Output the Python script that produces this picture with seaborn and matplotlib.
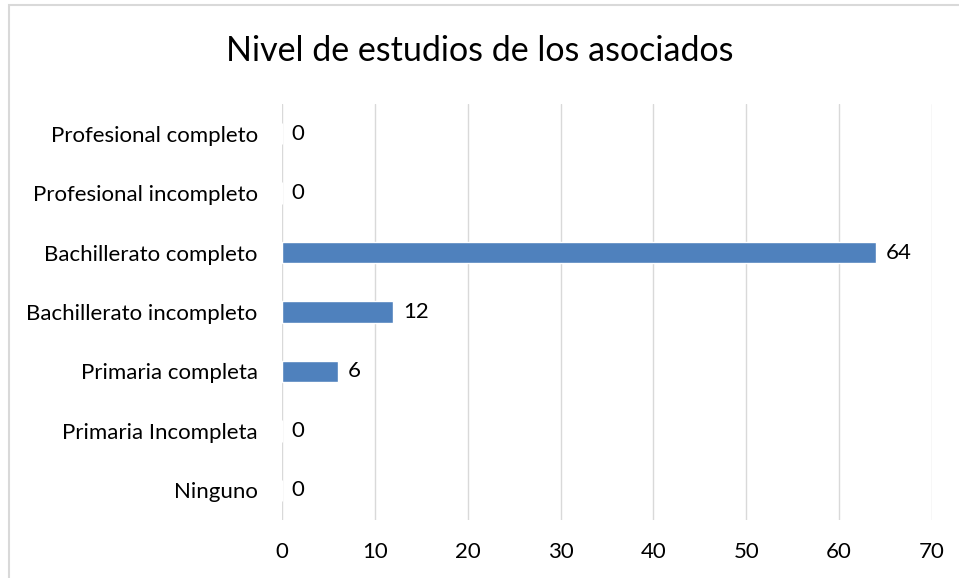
import matplotlib
matplotlib.use("Agg")
import matplotlib.pyplot as plt
from matplotlib.patches import Rectangle
import seaborn as sns
import pandas as pd

categories = [
    "Profesional completo",
    "Profesional incompleto",
    "Bachillerato completo",
    "Bachillerato incompleto",
    "Primaria completa",
    "Primaria Incompleta",
    "Ninguno",
]
counts = [0, 0, 64, 12, 6, 0, 0]
x_ticks = [0, 10, 20, 30, 40, 50, 60, 70]
title = "Nivel de estudios de los asociados"

df = pd.DataFrame({"nivel": categories, "asociados": counts})

sns.set_theme(style="white")
plt.rcParams["font.family"] = ["Lato", "DejaVu Sans"]

W, H = 959, 578
fig = plt.figure(figsize=(W / 100, H / 100), dpi=100)
ax = fig.add_axes([282 / W, 1 - 520 / H, 650 / W, 416 / H])

sns.barplot(data=df, x="asociados", y="nivel", orient="h",
            color="#4F81BD", width=0.36, saturation=1, ax=ax)

ax.set_xlim(0, 70)
ax.set_xticks(x_ticks)
ax.set_xticklabels([str(t) for t in x_ticks])
ax.grid(axis="x", color="#D9D9D9", linewidth=1.0)
ax.grid(axis="y", visible=False)
ax.set_axisbelow(True)
for s in ax.spines.values():
    s.set_visible(False)
ax.tick_params(axis="both", length=0, labelsize=16, colors="black")
ax.tick_params(axis="x", pad=16)
ax.tick_params(axis="y", pad=17.5)
ax.set_xlabel("")
ax.set_ylabel("")

for c in ax.containers:
    ax.bar_label(c, labels=[str(v) for v in counts], padding=7,
                 fontsize=16, color="black")

fig.text(0.5, 1 - 51 / H, title, ha="center", va="center",
         fontsize=24.5, color="black")

fig.patches.append(Rectangle((9 / W, -0.1), 2, 1 + 0.1 - 5.5 / H,
                             transform=fig.transFigure, fill=False,
                             edgecolor="#D9D9D9", linewidth=1.5))

fig.savefig("out.png", dpi=100, facecolor="white")
